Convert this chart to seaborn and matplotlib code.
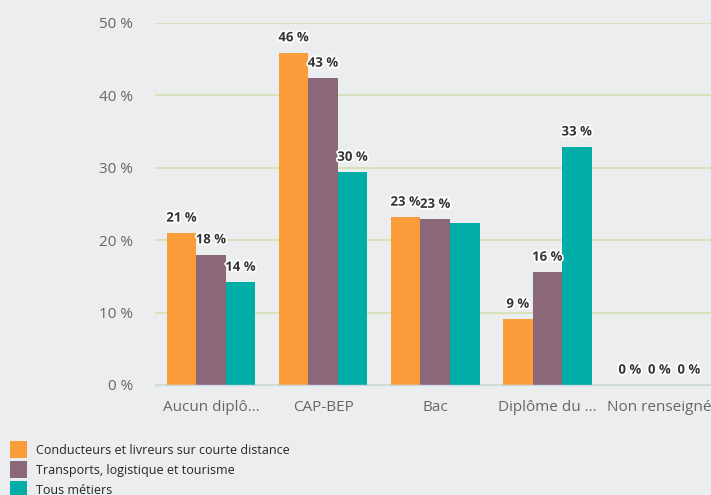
import pandas as pd
import seaborn as sns
import matplotlib.pyplot as plt
import matplotlib.patheffects as pe
from matplotlib.patches import Patch

# Données (en %)
categories = ['Aucun diplô...', 'CAP-BEP', 'Bac', 'Diplôme du ...', 'Non renseigné']
series = ['Conducteurs et livreurs sur courte distance',
          'Transports, logistique et tourisme',
          'Tous métiers']
conducteurs = [21.0, 45.9, 23.2, 9.1, 0.0]
transports = [18.0, 42.4, 22.9, 15.6, 0.0]
tous_metiers = [14.2, 29.4, 22.4, 32.9, 0.0]
labels_conducteurs = ['21 %', '46 %', '23 %', '9 %', '0 %']
labels_transports = ['18 %', '43 %', '23 %', '16 %', '0 %']
labels_tous = ['14 %', '30 %', '', '33 %', '0 %']
couleurs = ['#F99D3A', '#8B6877', '#00ADA7']

df = pd.DataFrame({
    'Diplome': categories * 3,
    'Serie': [series[0]] * 5 + [series[1]] * 5 + [series[2]] * 5,
    'Part': conducteurs + transports + tous_metiers,
})

bg = '#ECEDEF'
sns.set_theme(style='white')
plt.rcParams['font.family'] = ['Open Sans', 'DejaVu Sans']

fig = plt.figure(figsize=(7.11, 4.95), dpi=100, facecolor=bg)
ax = fig.add_axes([155 / 711, 1 - 385 / 495, 1 - 155 / 711, (385 - 23) / 495])
ax.set_facecolor(bg)

sns.barplot(data=df, x='Diplome', y='Part', hue='Serie', order=categories,
            hue_order=series, palette=couleurs, width=0.79, gap=0,
            saturation=1, linewidth=0, ax=ax)
ax.get_legend().remove()

ax.set_ylim(0, 50)
ax.set_xlim(-0.5, 4.46)
ax.set_yticks([0, 10, 20, 30, 40, 50])
ax.set_yticklabels(['0 %', '10 %', '20 %', '30 %', '40 %', '50 %'])
ax.yaxis.grid(True, color='#D5E0B0', linewidth=1.2)
ax.set_axisbelow(True)
for s in ['top', 'right', 'left']:
    ax.spines[s].set_visible(False)
ax.spines['bottom'].set_color('#CCD6EB')
ax.spines['bottom'].set_linewidth(1)
ax.tick_params(axis='both', length=0, labelsize=11, labelcolor='#666666')
ax.tick_params(axis='y', pad=16)
ax.tick_params(axis='x', pad=11)
ax.set_xlabel('')
ax.set_ylabel('')

halo = [pe.withStroke(linewidth=2.5, foreground='white')]
for cont, labs in zip(ax.containers, [labels_conducteurs, labels_transports, labels_tous]):
    txts = ax.bar_label(cont, labels=labs, padding=6, fontsize=9.5,
                        fontweight='bold', color='#333333')
    for t in txts:
        t.set_path_effects(halo)
        t.set_clip_on(False)

handles = [Patch(facecolor=c, edgecolor='none') for c in couleurs]
fig.legend(handles, series, loc='upper left', bbox_to_anchor=(0.014, 1 - 441 / 495),
           frameon=False, fontsize=9, handlelength=1.36, handleheight=1.72,
           labelspacing=0.25, handletextpad=0.72, borderpad=0, borderaxespad=0)

fig.savefig('out.png', dpi=100, facecolor=bg)
